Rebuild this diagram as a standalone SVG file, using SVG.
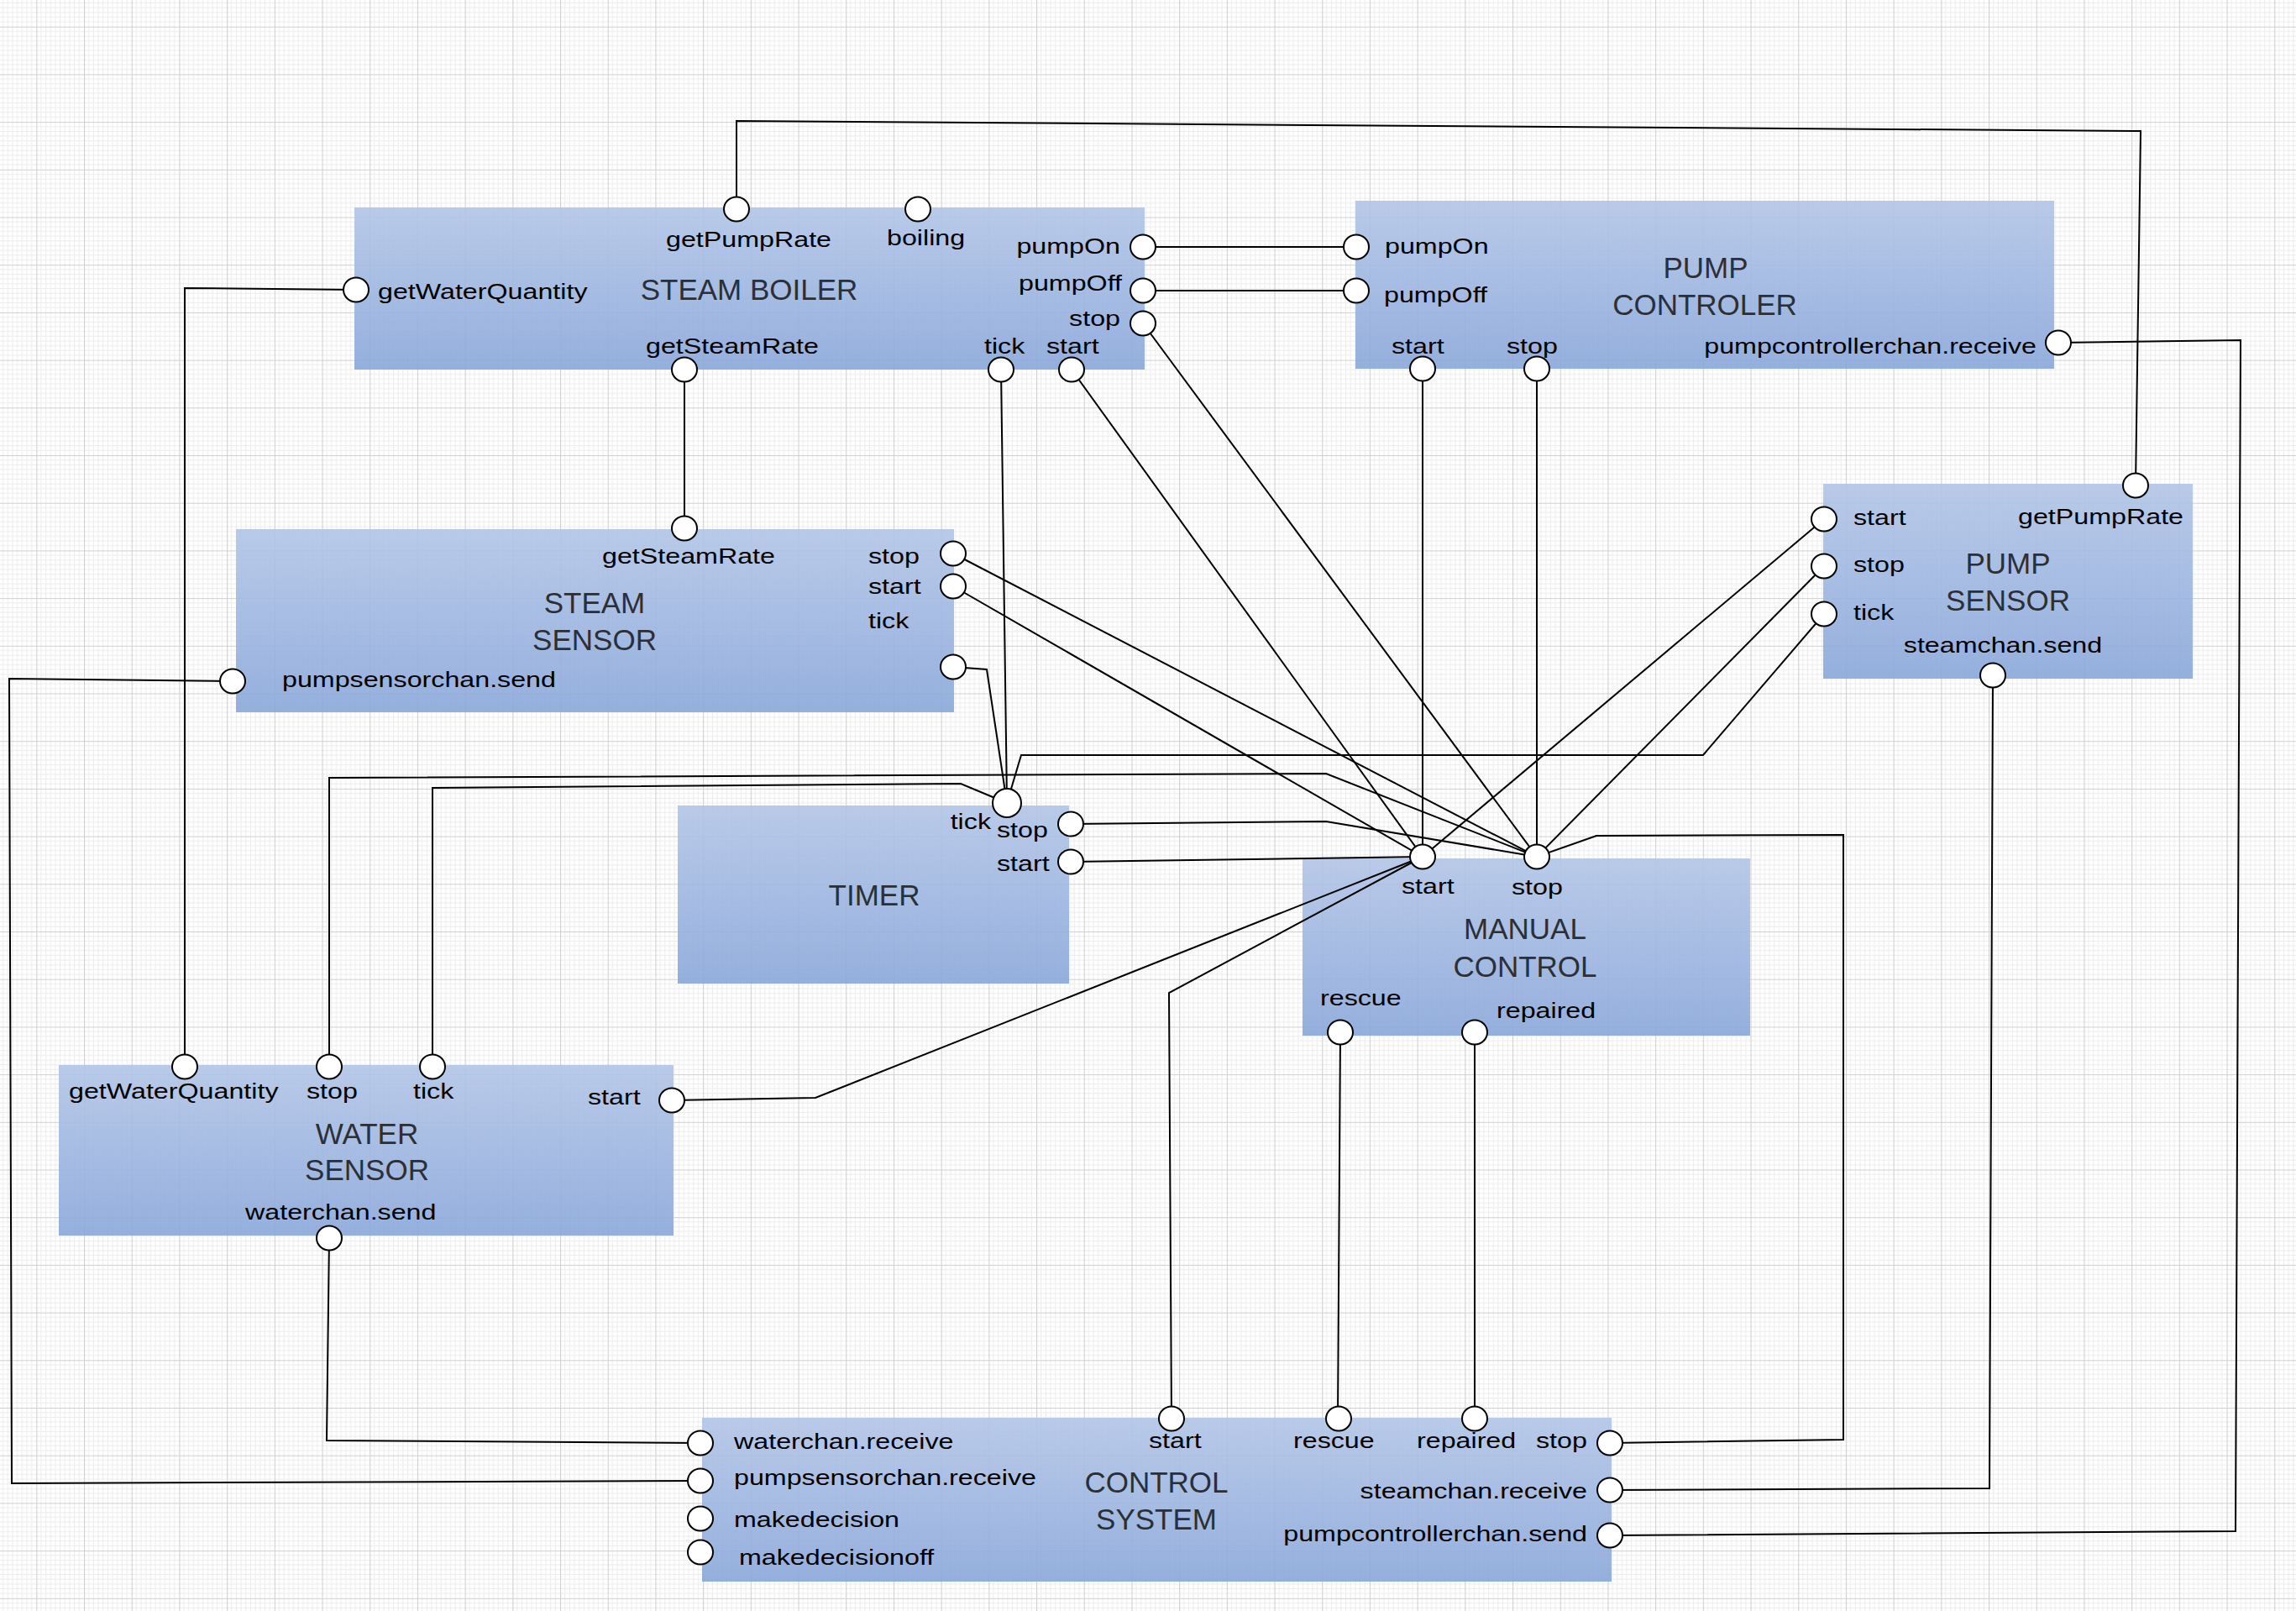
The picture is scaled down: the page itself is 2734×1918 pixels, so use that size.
<svg xmlns="http://www.w3.org/2000/svg" width="2734" height="1918" viewBox="0 0 2734 1918">
<defs>
<pattern id="grid" patternUnits="userSpaceOnUse" x="43.3" y="31.7" width="56.7" height="56.7">
<path d="M5.67 0V56.7M11.34 0V56.7M17.01 0V56.7M22.68 0V56.7M28.35 0V56.7M34.02 0V56.7M39.69 0V56.7M45.36 0V56.7M51.03 0V56.7M0 5.67H56.7M0 11.34H56.7M0 17.01H56.7M0 22.68H56.7M0 28.35H56.7M0 34.02H56.7M0 39.69H56.7M0 45.36H56.7M0 51.03H56.7" stroke="#ececec" stroke-width="1" fill="none"/>
<path d="M0.5 0V56.7M0 0.5H56.7" stroke="#d0d0d0" stroke-width="1.2" fill="none"/>
</pattern>
<linearGradient id="boxfill" x1="0" y1="0" x2="0" y2="1">
<stop offset="0" stop-color="#b2c5e7"/>
<stop offset="1" stop-color="#8aa7da"/>
</linearGradient>
<style>
.box{fill:url(#boxfill);fill-opacity:0.9}
.l{font-family:"Liberation Sans",Arial,sans-serif;font-size:26px;fill:#000}
.t{font-family:"Liberation Sans",Arial,sans-serif;font-size:35px;fill:#2b3038;text-anchor:middle}
.e{text-anchor:end}
.m{text-anchor:middle}
.port{fill:#fff;stroke:#000;stroke-width:2}
.conn path{fill:none;stroke:#000;stroke-width:2;stroke-linejoin:miter}
</style>
</defs>
<rect x="0" y="0" width="2734" height="1918" fill="#fff"/>
<rect x="0" y="0" width="2734" height="1918" fill="url(#grid)"/>

<g id="steam-boiler">
<rect class="box" x="422" y="247" width="941" height="193"/>
<text class="t" x="892" y="357">STEAM BOILER</text>
<text class="l" transform="translate(793,294) scale(1.24,1)">getPumpRate</text>
<text class="l" transform="translate(1056,292) scale(1.24,1)">boiling</text>
<text class="l e" transform="translate(1334,302) scale(1.24,1)">pumpOn</text>
<text class="l e" transform="translate(1336,346) scale(1.24,1)">pumpOff</text>
<text class="l e" transform="translate(1334,388) scale(1.24,1)">stop</text>
<text class="l" transform="translate(450,356) scale(1.24,1)">getWaterQuantity</text>
<text class="l" transform="translate(769,421) scale(1.24,1)">getSteamRate</text>
<text class="l" transform="translate(1172,421) scale(1.24,1)">tick</text>
<text class="l" transform="translate(1246,421) scale(1.24,1)">start</text>
</g>

<g id="pump-controler">
<rect class="box" x="1614" y="239" width="832" height="200"/>
<text class="t" x="2031" y="331">PUMP</text>
<text class="t" x="2030" y="375">CONTROLER</text>
<text class="l" transform="translate(1649,302) scale(1.24,1)">pumpOn</text>
<text class="l" transform="translate(1648,360) scale(1.24,1)">pumpOff</text>
<text class="l" transform="translate(1657,421) scale(1.24,1)">start</text>
<text class="l" transform="translate(1794,421) scale(1.24,1)">stop</text>
<text class="l e" transform="translate(2425,421) scale(1.24,1)">pumpcontrollerchan.receive</text>
</g>

<g id="steam-sensor">
<rect class="box" x="281" y="630" width="855" height="218"/>
<text class="t" x="708" y="730">STEAM</text>
<text class="t" x="708" y="774">SENSOR</text>
<text class="l" transform="translate(717,671) scale(1.24,1)">getSteamRate</text>
<text class="l" transform="translate(1034,671) scale(1.24,1)">stop</text>
<text class="l" transform="translate(1034,707) scale(1.24,1)">start</text>
<text class="l" transform="translate(1034,748) scale(1.24,1)">tick</text>
<text class="l" transform="translate(336,818) scale(1.24,1)">pumpsensorchan.send</text>
</g>

<g id="pump-sensor">
<rect class="box" x="2171" y="576" width="440" height="232"/>
<text class="t" x="2391" y="683">PUMP</text>
<text class="t" x="2391" y="727">SENSOR</text>
<text class="l" transform="translate(2207,625) scale(1.24,1)">start</text>
<text class="l e" transform="translate(2600,624) scale(1.24,1)">getPumpRate</text>
<text class="l" transform="translate(2207,681) scale(1.24,1)">stop</text>
<text class="l" transform="translate(2207,738) scale(1.24,1)">tick</text>
<text class="l m" transform="translate(2385,777) scale(1.24,1)">steamchan.send</text>
</g>

<g id="timer">
<rect class="box" x="807" y="959" width="466" height="212"/>
<text class="t" x="1041" y="1078">TIMER</text>
<text class="l e" transform="translate(1180,987) scale(1.24,1)">tick</text>
<text class="l" transform="translate(1187,997) scale(1.24,1)">stop</text>
<text class="l" transform="translate(1187,1037) scale(1.24,1)">start</text>
</g>

<g id="manual-control">
<rect class="box" x="1551" y="1022" width="533" height="211"/>
<text class="t" x="1816" y="1118">MANUAL</text>
<text class="t" x="1816" y="1163">CONTROL</text>
<text class="l" transform="translate(1669,1064) scale(1.24,1)">start</text>
<text class="l" transform="translate(1800,1065) scale(1.24,1)">stop</text>
<text class="l" transform="translate(1572,1197) scale(1.24,1)">rescue</text>
<text class="l" transform="translate(1782,1212) scale(1.24,1)">repaired</text>
</g>

<g id="water-sensor">
<rect class="box" x="70" y="1268" width="732" height="203"/>
<text class="t" x="437" y="1362">WATER</text>
<text class="t" x="437" y="1405">SENSOR</text>
<text class="l" transform="translate(82,1308) scale(1.24,1)">getWaterQuantity</text>
<text class="l" transform="translate(365,1308) scale(1.24,1)">stop</text>
<text class="l" transform="translate(492,1308) scale(1.24,1)">tick</text>
<text class="l" transform="translate(700,1315) scale(1.24,1)">start</text>
<text class="l" transform="translate(292,1452) scale(1.24,1)">waterchan.send</text>
</g>

<g id="control-system">
<rect class="box" x="836" y="1688" width="1083" height="195"/>
<text class="t" x="1377" y="1777">CONTROL</text>
<text class="t" x="1377" y="1821">SYSTEM</text>
<text class="l" transform="translate(874,1725) scale(1.24,1)">waterchan.receive</text>
<text class="l" transform="translate(874,1768) scale(1.24,1)">pumpsensorchan.receive</text>
<text class="l" transform="translate(874,1818) scale(1.24,1)">makedecision</text>
<text class="l" transform="translate(880,1863) scale(1.24,1)">makedecisionoff</text>
<text class="l" transform="translate(1368,1724) scale(1.24,1)">start</text>
<text class="l" transform="translate(1540,1724) scale(1.24,1)">rescue</text>
<text class="l" transform="translate(1687,1724) scale(1.24,1)">repaired</text>
<text class="l" transform="translate(1829,1724) scale(1.24,1)">stop</text>
<text class="l e" transform="translate(1890,1784) scale(1.24,1)">steamchan.receive</text>
<text class="l e" transform="translate(1890,1835) scale(1.24,1)">pumpcontrollerchan.send</text>
</g>

<g id="connectors" class="conn">
<path d="M877,249 L877,144 L2549,156 L2543,578"/>
<path d="M424,345 L220,343 L220,1270"/>
<path d="M1361,294 L1615,294"/>
<path d="M1361,346 L1615,346"/>
<path d="M1361,385 L1830,1020"/>
<path d="M1276,440 L1694,1020"/>
<path d="M1192,440 L1199,956"/>
<path d="M815,440 L815,629"/>
<path d="M1694,439 L1694,1020"/>
<path d="M1830,439 L1830,1020"/>
<path d="M2451,408 L2668,405 L2662,1823 L1917,1828"/>
<path d="M1135,659 L1830,1020"/>
<path d="M1135,698 L1694,1020"/>
<path d="M1135,794 L1175,797 L1199,956"/>
<path d="M277,811 L11,808 L14,1766 L834,1763"/>
<path d="M2172,618 L1694,1020"/>
<path d="M2172,674 L1830,1020"/>
<path d="M2172,731 L2028,899 L1216,899 L1199,956"/>
<path d="M1275,981 L1579,978 L1830,1020"/>
<path d="M1275,1026 L1694,1020"/>
<path d="M392,1270 L392,926 L1579,921 L1830,1020"/>
<path d="M515,1270 L515,938 L1144,933 L1199,956"/>
<path d="M1694,1020 L971,1307 L800,1310"/>
<path d="M1694,1020 L1392,1182 L1395,1689"/>
<path d="M1596,1229 L1593,1689"/>
<path d="M1756,1229 L1756,1689"/>
<path d="M1830,1020 L1901,995 L2195,994 L2195,1714 L1917,1718"/>
<path d="M2373,804 L2369,1772 L1917,1774"/>
<path d="M392,1474 L389,1715 L834,1718"/>
</g>

<g id="steam-boiler-ports">
<ellipse class="port" cx="877" cy="249" rx="15" ry="14.5"/>
<ellipse class="port" cx="1093" cy="249" rx="15" ry="14.5"/>
<ellipse class="port" cx="424" cy="345" rx="15" ry="14.5"/>
<ellipse class="port" cx="1361" cy="294" rx="15" ry="14.5"/>
<ellipse class="port" cx="1361" cy="346" rx="15" ry="14.5"/>
<ellipse class="port" cx="1361" cy="385" rx="15" ry="14.5"/>
<ellipse class="port" cx="815" cy="440" rx="15" ry="14.5"/>
<ellipse class="port" cx="1192" cy="440" rx="15" ry="14.5"/>
<ellipse class="port" cx="1276" cy="440" rx="15" ry="14.5"/>
</g>
<g id="pump-controler-ports">
<ellipse class="port" cx="1615" cy="294" rx="15" ry="14.5"/>
<ellipse class="port" cx="1615" cy="346" rx="15" ry="14.5"/>
<ellipse class="port" cx="1694" cy="439" rx="15" ry="14.5"/>
<ellipse class="port" cx="1830" cy="439" rx="15" ry="14.5"/>
<ellipse class="port" cx="2451" cy="408" rx="15" ry="14.5"/>
</g>
<g id="steam-sensor-ports">
<ellipse class="port" cx="815" cy="629" rx="15" ry="14.5"/>
<ellipse class="port" cx="1135" cy="659" rx="15" ry="14.5"/>
<ellipse class="port" cx="1135" cy="698" rx="15" ry="14.5"/>
<ellipse class="port" cx="1135" cy="794" rx="15" ry="14.5"/>
<ellipse class="port" cx="277" cy="811" rx="15" ry="14.5"/>
</g>
<g id="pump-sensor-ports">
<ellipse class="port" cx="2543" cy="578" rx="15" ry="14.5"/>
<ellipse class="port" cx="2172" cy="618" rx="15" ry="14.5"/>
<ellipse class="port" cx="2172" cy="674" rx="15" ry="14.5"/>
<ellipse class="port" cx="2172" cy="731" rx="15" ry="14.5"/>
<ellipse class="port" cx="2373" cy="804" rx="15" ry="14.5"/>
</g>
<g id="timer-ports">
<ellipse class="port" cx="1199" cy="956" rx="17" ry="17"/>
<ellipse class="port" cx="1275" cy="981" rx="15" ry="14.5"/>
<ellipse class="port" cx="1275" cy="1026" rx="15" ry="14.5"/>
</g>
<g id="manual-control-ports">
<ellipse class="port" cx="1694" cy="1020" rx="15" ry="14.5"/>
<ellipse class="port" cx="1830" cy="1020" rx="15" ry="14.5"/>
<ellipse class="port" cx="1596" cy="1229" rx="15" ry="14.5"/>
<ellipse class="port" cx="1756" cy="1229" rx="15" ry="14.5"/>
</g>
<g id="water-sensor-ports">
<ellipse class="port" cx="220" cy="1270" rx="15" ry="14.5"/>
<ellipse class="port" cx="392" cy="1270" rx="15" ry="14.5"/>
<ellipse class="port" cx="515" cy="1270" rx="15" ry="14.5"/>
<ellipse class="port" cx="800" cy="1310" rx="15" ry="14.5"/>
<ellipse class="port" cx="392" cy="1474" rx="15" ry="14.5"/>
</g>
<g id="control-system-ports">
<ellipse class="port" cx="834" cy="1718" rx="15" ry="14.5"/>
<ellipse class="port" cx="834" cy="1763" rx="15" ry="14.5"/>
<ellipse class="port" cx="834" cy="1808" rx="15" ry="14.5"/>
<ellipse class="port" cx="834" cy="1848" rx="15" ry="14.5"/>
<ellipse class="port" cx="1395" cy="1689" rx="15" ry="14.5"/>
<ellipse class="port" cx="1594" cy="1689" rx="15" ry="14.5"/>
<ellipse class="port" cx="1756" cy="1689" rx="15" ry="14.5"/>
<ellipse class="port" cx="1917" cy="1718" rx="15" ry="14.5"/>
<ellipse class="port" cx="1917" cy="1774" rx="15" ry="14.5"/>
<ellipse class="port" cx="1917" cy="1828" rx="15" ry="14.5"/>
</g>
</svg>
